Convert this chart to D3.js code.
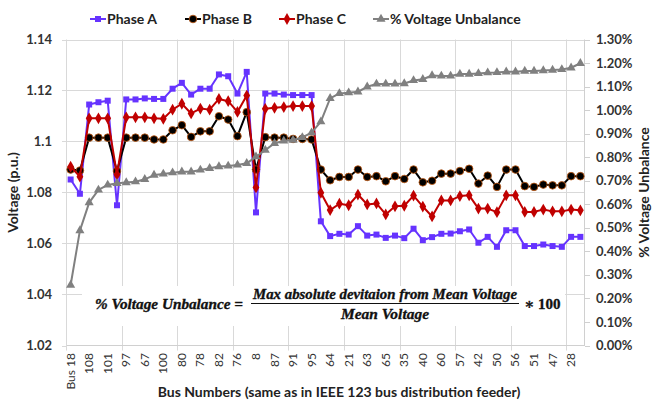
<!DOCTYPE html>
<html><head><meta charset="utf-8">
<script src="https://cdn.jsdelivr.net/npm/d3@7"></script>
<style>body{margin:0;background:#fff}svg{display:block}</style>
</head><body>
<svg id="c" width="653" height="401"></svg>
<script>
const busLabels = ["Bus 18","108","101","97","67","100","80","78","82","76","8","87","91","95","64","21","63","65","35","40","60","57","42","50","56","51","47","28"];
const phaseA = [1.0851,1.0795,1.1145,1.1154,1.116,1.075,1.1165,1.1165,1.1169,1.1167,1.1167,1.1207,1.123,1.1184,1.1207,1.1207,1.1263,1.1256,1.1188,1.1273,1.0722,1.1188,1.1188,1.1184,1.1182,1.1182,1.1182,1.0687,1.0629,1.0638,1.0635,1.0668,1.0631,1.0635,1.0622,1.0631,1.0621,1.0658,1.0613,1.0625,1.0638,1.0639,1.0648,1.0655,1.0603,1.0626,1.0587,1.0652,1.0652,1.059,1.059,1.0596,1.059,1.0587,1.0626,1.0626];
const phaseB = [1.089,1.0886,1.1015,1.1015,1.1015,1.0884,1.1015,1.1015,1.1015,1.1008,1.1008,1.1044,1.1064,1.1018,1.104,1.104,1.1099,1.1086,1.1021,1.1115,1.089,1.1017,1.1015,1.1015,1.101,1.101,1.1008,1.089,1.0848,1.0861,1.0861,1.089,1.0861,1.0864,1.0844,1.0864,1.0853,1.089,1.084,1.0846,1.0874,1.0874,1.0884,1.0893,1.0835,1.0866,1.0822,1.089,1.089,1.0825,1.0822,1.0831,1.0828,1.0828,1.0864,1.0864];
const phaseC = [1.0901,1.0862,1.1091,1.1091,1.1091,1.087,1.1095,1.1095,1.1095,1.1091,1.1089,1.1125,1.1148,1.111,1.1129,1.1125,1.1167,1.1158,1.1116,1.118,1.082,1.1128,1.1132,1.1135,1.1139,1.1139,1.1139,1.0799,1.0731,1.0756,1.075,1.0792,1.0753,1.0757,1.0714,1.0746,1.0748,1.0788,1.0745,1.0706,1.0769,1.0769,1.0786,1.0789,1.0737,1.0737,1.0723,1.0789,1.0789,1.0724,1.0724,1.0733,1.0726,1.0726,1.0733,1.073];
const unbalance = [0.257,0.488,0.607,0.661,0.682,0.689,0.692,0.696,0.706,0.724,0.729,0.734,0.738,0.738,0.746,0.753,0.760,0.763,0.767,0.774,0.802,0.830,0.859,0.869,0.873,0.884,0.904,0.951,1.050,1.071,1.074,1.078,1.099,1.111,1.111,1.111,1.113,1.126,1.131,1.147,1.145,1.145,1.153,1.153,1.156,1.159,1.160,1.163,1.163,1.166,1.166,1.168,1.170,1.173,1.180,1.199];
const leftTicks = [1.02,1.04,1.06,1.08,1.1,1.12,1.14];
const rightTicks = [0,0.1,0.2,0.3,0.4,0.5,0.6,0.7,0.8,0.9,1.0,1.1,1.2,1.3];
const seriesNames = ["Phase A","Phase B","Phase C","% Voltage Unbalance"];

const svg = d3.select("#c");
const L = 66, R = 585, T = 39.5, B = 345.5;
const n = phaseA.length;
const x = d3.scaleBand().domain(d3.range(n)).range([L, R]).paddingInner(0).paddingOuter(0);
const cx = i => x(i) + x.bandwidth()/2;
const yL = d3.scaleLinear().domain([1.02, 1.14]).range([B, T]);
const yR = d3.scaleLinear().domain([0, 1.3]).range([B, T]);
const FONT = "Lato, 'Open Sans', sans-serif";

// gridlines
svg.append("g").selectAll("line").data(leftTicks.filter(d => d > 1.02)).join("line")
  .attr("x1", L).attr("x2", R).attr("y1", d => Math.round(yL(d))+0.5).attr("y2", d => Math.round(yL(d))+0.5)
  .attr("stroke", "#d9d9d9").attr("stroke-width", 1);
const vIdx = d3.range(6, n, 6);
svg.append("g").selectAll("line").data(vIdx).join("line")
  .attr("x1", d => Math.round(x(d))+0.5).attr("x2", d => Math.round(x(d))+0.5)
  .attr("y1", T).attr("y2", B + 5)
  .attr("stroke", "#d9d9d9").attr("stroke-width", 1);

// axes lines
svg.append("line").attr("x1", L).attr("x2", R).attr("y1", B).attr("y2", B).attr("stroke", "#d0d0d0");
svg.append("line").attr("x1", L+0.5).attr("x2", L+0.5).attr("y1", T).attr("y2", B+5).attr("stroke", "#d9d9d9");
svg.append("line").attr("x1", R-0.5).attr("x2", R-0.5).attr("y1", T).attr("y2", B).attr("stroke", "#d0d0d0");
svg.append("g").selectAll("line").data(rightTicks).join("line")
  .attr("x1", R).attr("x2", R+5).attr("y1", d => Math.round(yR(d))+0.5).attr("y2", d => Math.round(yR(d))+0.5)
  .attr("stroke", "#d0d0d0");
svg.append("g").selectAll("line").data(leftTicks).join("line")
  .attr("x1", L-4).attr("x2", L).attr("y1", d => Math.round(yL(d))+0.5).attr("y2", d => Math.round(yL(d))+0.5)
  .attr("stroke", "#d9d9d9");

// formula background box
const fg = svg.append("g");
fg.append("rect").attr("x", 82).attr("y", 286).attr("width", 483).attr("height", 40).attr("fill", "#fff");

// left tick labels
svg.append("g").selectAll("text").data(leftTicks).join("text")
  .attr("x", 52).attr("y", d => yL(d)).attr("dy", "0.35em").attr("text-anchor", "end")
  .attr("font-family", FONT).attr("font-weight", "bold").attr("font-size", 13).attr("fill", "#333")
  .text(d => d3.format("")(+d.toFixed(2)));
// right tick labels
svg.append("g").selectAll("text").data(rightTicks).join("text")
  .attr("x", 596).attr("y", d => yR(d)).attr("dy", "0.35em").attr("text-anchor", "start")
  .attr("font-family", FONT).attr("font-weight", "bold").attr("font-size", 13).attr("fill", "#333")
  .text(d => d.toFixed(2) + "%");
// x tick labels (every other category)
svg.append("g").selectAll("text").data(busLabels).join("text")
  .attr("transform", (d, k) => `translate(${cx(k*2)+4},353) rotate(-90)`)
  .attr("text-anchor", "end")
  .attr("font-family", FONT).attr("font-size", 12).attr("fill", "#333")
  .text(d => d);

// axis titles
svg.append("text").attr("transform", `translate(18,${(T+B)/2}) rotate(-90)`).attr("text-anchor", "middle")
  .attr("font-family", FONT).attr("font-weight", "bold").attr("font-size", 14).attr("fill", "#222").text("Voltage (p.u.)");
svg.append("text").attr("transform", `translate(649,${(T+B)/2}) rotate(-90)`).attr("text-anchor", "middle")
  .attr("font-family", FONT).attr("font-weight", "bold").attr("font-size", 14).attr("fill", "#222").text("% Voltage Unbalance");
svg.append("text").attr("x", 339).attr("y", 397).attr("text-anchor", "middle")
  .attr("font-family", FONT).attr("font-weight", "bold").attr("font-size", 14).attr("fill", "#222")
  .text("Bus Numbers (same as in IEEE 123 bus distribution feeder)");

// formula
const FF = "'Liberation Serif', 'DejaVu Serif', serif";
function ftxt(xp, yp, anchor, len, str, italic) {
  const t = fg.append("text").attr("x", xp).attr("y", yp).attr("text-anchor", anchor)
    .attr("font-family", FF).attr("font-weight", "bold").attr("font-size", 15)
    .attr("fill", "#111").attr("stroke", "#111").attr("stroke-width", 0.35)
    .text(str);
  if (italic) t.attr("font-style", "italic");
  if (len) t.attr("textLength", len).attr("lengthAdjust", "spacingAndGlyphs");
  return t;
}
ftxt(95, 309, "start", 148, "% Voltage Unbalance =", true);
ftxt(385, 299, "middle", 264, "Max absolute devitaion from Mean Voltage", true);
fg.append("line").attr("x1", 251).attr("x2", 519).attr("y1", 303.5).attr("y2", 303.5).attr("stroke", "#111").attr("stroke-width", 1.2);
ftxt(385, 319, "middle", 88, "Mean Voltage", true);
ftxt(524, 309, "start", null, "∗ 100", false);

// series
const styles = [
  {data: phaseA, y: yL, color: "#6633ff", sym: d3.symbolSquare, size: 36, fill: "#6633ff", stroke: "none"},
  {data: phaseB, y: yL, color: "#000000", sym: d3.symbolCircle, size: 46, fill: "#000000", stroke: "#c55a11"},
  {data: phaseC, y: yL, color: "#c00000", sym: d3.symbolDiamond, size: 40, fill: "#c00000", stroke: "none"},
  {data: unbalance, y: yR, color: "#808080", sym: d3.symbolTriangle, size: 36, fill: "#808080", stroke: "none"}
];
styles.forEach(s => {
  const g = svg.append("g");
  g.append("path").datum(s.data)
    .attr("d", d3.line().x((d, i) => cx(i)).y(d => s.y(d)))
    .attr("fill", "none").attr("stroke", s.color).attr("stroke-width", 2).attr("stroke-linejoin", "round");
  g.selectAll("path.m").data(s.data).join("path").attr("class", "m")
    .attr("transform", (d, i) => `translate(${cx(i)},${s.y(d)})`)
    .attr("d", d3.symbol().type(s.sym).size(s.size))
    .attr("fill", s.fill).attr("stroke", s.stroke).attr("stroke-width", 0.8);
});

// legend
const legX = [90, 185, 279, 373];
const lg = svg.append("g");
styles.forEach((s, k) => {
  const gx = legX[k], gy = 19;
  lg.append("line").attr("x1", gx).attr("x2", gx+16).attr("y1", gy).attr("y2", gy).attr("stroke", s.color).attr("stroke-width", 2);
  lg.append("path").attr("transform", `translate(${gx+8},${gy})`).attr("d", d3.symbol().type(s.sym).size(s.size))
    .attr("fill", s.fill).attr("stroke", s.stroke).attr("stroke-width", 0.8);
  lg.append("text").attr("x", gx+17).attr("y", gy).attr("dy", "0.35em")
    .attr("font-family", FONT).attr("font-weight", "bold").attr("font-size", 14).attr("fill", "#222").text(seriesNames[k]);
});
</script>
</body></html>
